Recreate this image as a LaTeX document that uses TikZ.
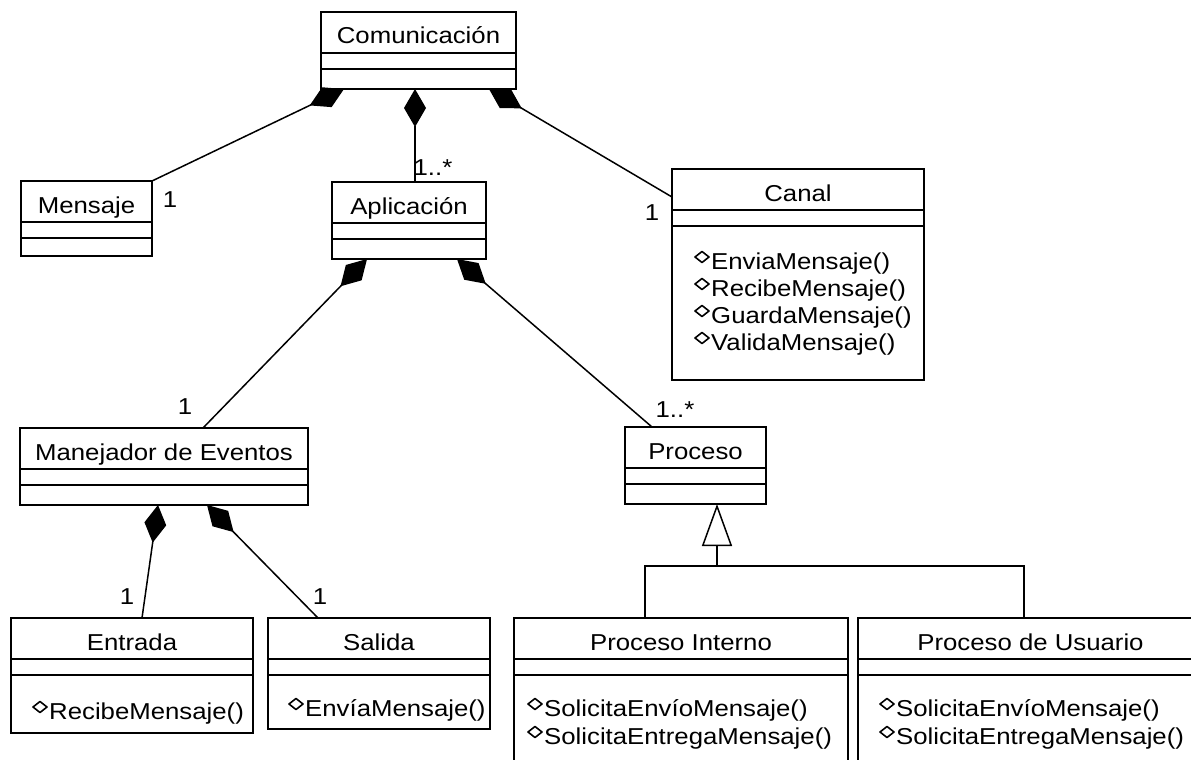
\documentclass[tikz,border=0pt]{standalone}
\usepackage{fontspec}
\setmainfont{Liberation Sans}[FakeStretch=1.12]
\usetikzlibrary{arrows.meta}
\newcommand\umlcls[6]{%
  \node[cls, anchor=north west, minimum width=#4pt, minimum height=#5pt] (#1) at (#2,#3) {};
  \draw[sep] ([yshift=-41pt]#1.north west) -- ([yshift=-41pt]#1.north east);
  \draw[sep] ([yshift=-57pt]#1.north west) -- ([yshift=-57pt]#1.north east);
  \node[ttl] (#1-name) at ([yshift=-32pt]#1.north) {#6};
}
% operation: #1 name, #2 x of the diamond, #3 baseline y, #4 text
\newcommand\umlop[4]{%
  \node[opn] (#1) at (#2+17,#3) {#4};
  \draw[opmark] ([xshift=-16pt,yshift=12pt]#1.base west) -- ++(7,-5.5) -- ++(7,5.5) -- ++(-7,5.5) -- cycle;
}
\begin{document}
\begin{tikzpicture}[x=1pt,y=-1pt,
  cls/.style={draw, line width=1.8pt, fill=white, inner sep=0pt, outer sep=0pt},
  sep/.style={line width=1.6pt},
  ttl/.style={inner sep=0pt, anchor=base, font=\fontsize{23}{26}\selectfont},
  opn/.style={inner sep=0pt, anchor=base west, font=\fontsize{23}{26}\selectfont},
  opmark/.style={line width=1.6pt, line join=round},
  mult/.style={inner sep=0pt, font=\fontsize{23}{26}\selectfont},
  conn/.style={line width=1.5pt},
  comp/.style={conn, {Diamond[length=38pt,width=22pt]}-},
  gen/.style={conn, -{Triangle[length=42pt,width=30pt,fill=white,line width=1.5pt]}}
]
\useasboundingbox (0,0) rectangle (1191,760);
\path[clip] (0,0) rectangle (1191,760);
\fill[white] (0,0) rectangle (1191,760);

% classes
\umlcls{com}{321}{12}{195}{77}{Comunicación}
\umlcls{msj}{21}{181}{131}{75}{Mensaje}
\umlcls{apl}{332}{182}{154}{77}{Aplicación}
\umlcls{can}{672}{169}{252}{211}{Canal}
\umlcls{man}{20}{428}{288}{77}{Manejador de Eventos}
\umlcls{pro}{625}{427}{141}{77}{Proceso}
\umlcls{ent}{11}{618}{242}{115}{Entrada}
\umlcls{sal}{268}{618}{222}{111}{Salida}
\umlcls{pin}{514}{618}{334}{170}{Proceso Interno}
\umlcls{pus}{858}{618}{345}{170}{Proceso de Usuario}

% operations
\umlop{can-m1}{694}{269}{EnviaMensaje()}
\umlop{can-m2}{694}{296}{RecibeMensaje()}
\umlop{can-m3}{694}{323}{GuardaMensaje()}
\umlop{can-m4}{694}{350}{ValidaMensaje()}
\umlop{ent-m1}{32}{719}{RecibeMensaje()}
\umlop{sal-m1}{288}{716}{EnvíaMensaje()}
\umlop{pin-m1}{527}{716}{SolicitaEnvíoMensaje()}
\umlop{pin-m2}{527}{744}{SolicitaEntregaMensaje()}
\umlop{pus-m1}{879}{716}{SolicitaEnvíoMensaje()}
\umlop{pus-m2}{879}{744}{SolicitaEntregaMensaje()}

% compositions
\draw[comp] ([xshift=23pt]com.south west) -- (msj.north east);
\draw[comp] ([xshift=94pt]com.south west) -- ([xshift=83pt]apl.north west);
\draw[comp] ([xshift=168pt]com.south west) -- ([yshift=-28pt]can.north west);
\draw[comp] ([xshift=35pt]apl.south west) -- ([xshift=183pt]man.north west);
\draw[comp] ([xshift=125pt]apl.south west) -- ([xshift=27pt]pro.north west);
\draw[comp] ([xshift=138pt]man.south west) -- ([xshift=131pt]ent.north west);
\draw[comp] ([xshift=187pt]man.south west) -- ([xshift=50pt]sal.north west);

% generalization
\coordinate (gj) at ([xshift=92pt,yshift=-62pt]pro.south west);
\draw[gen] (gj) -- ([xshift=92pt]pro.south west);
\draw[conn] ([xshift=131pt]pin.north west) |- (gj) -| ([xshift=166pt]pus.north west);

% multiplicities
\node[mult] (m-msj) at (170,200) {1};
\node[mult] (m-apl) at (433,168) {1..*};
\node[mult] (m-can) at (652,213) {1};
\node[mult] (m-man) at (185,407) {1};
\node[mult] (m-pro) at (675,410) {1..*};
\node[mult] (m-ent) at (127,597) {1};
\node[mult] (m-sal) at (320,597) {1};
\end{tikzpicture}
\end{document}
